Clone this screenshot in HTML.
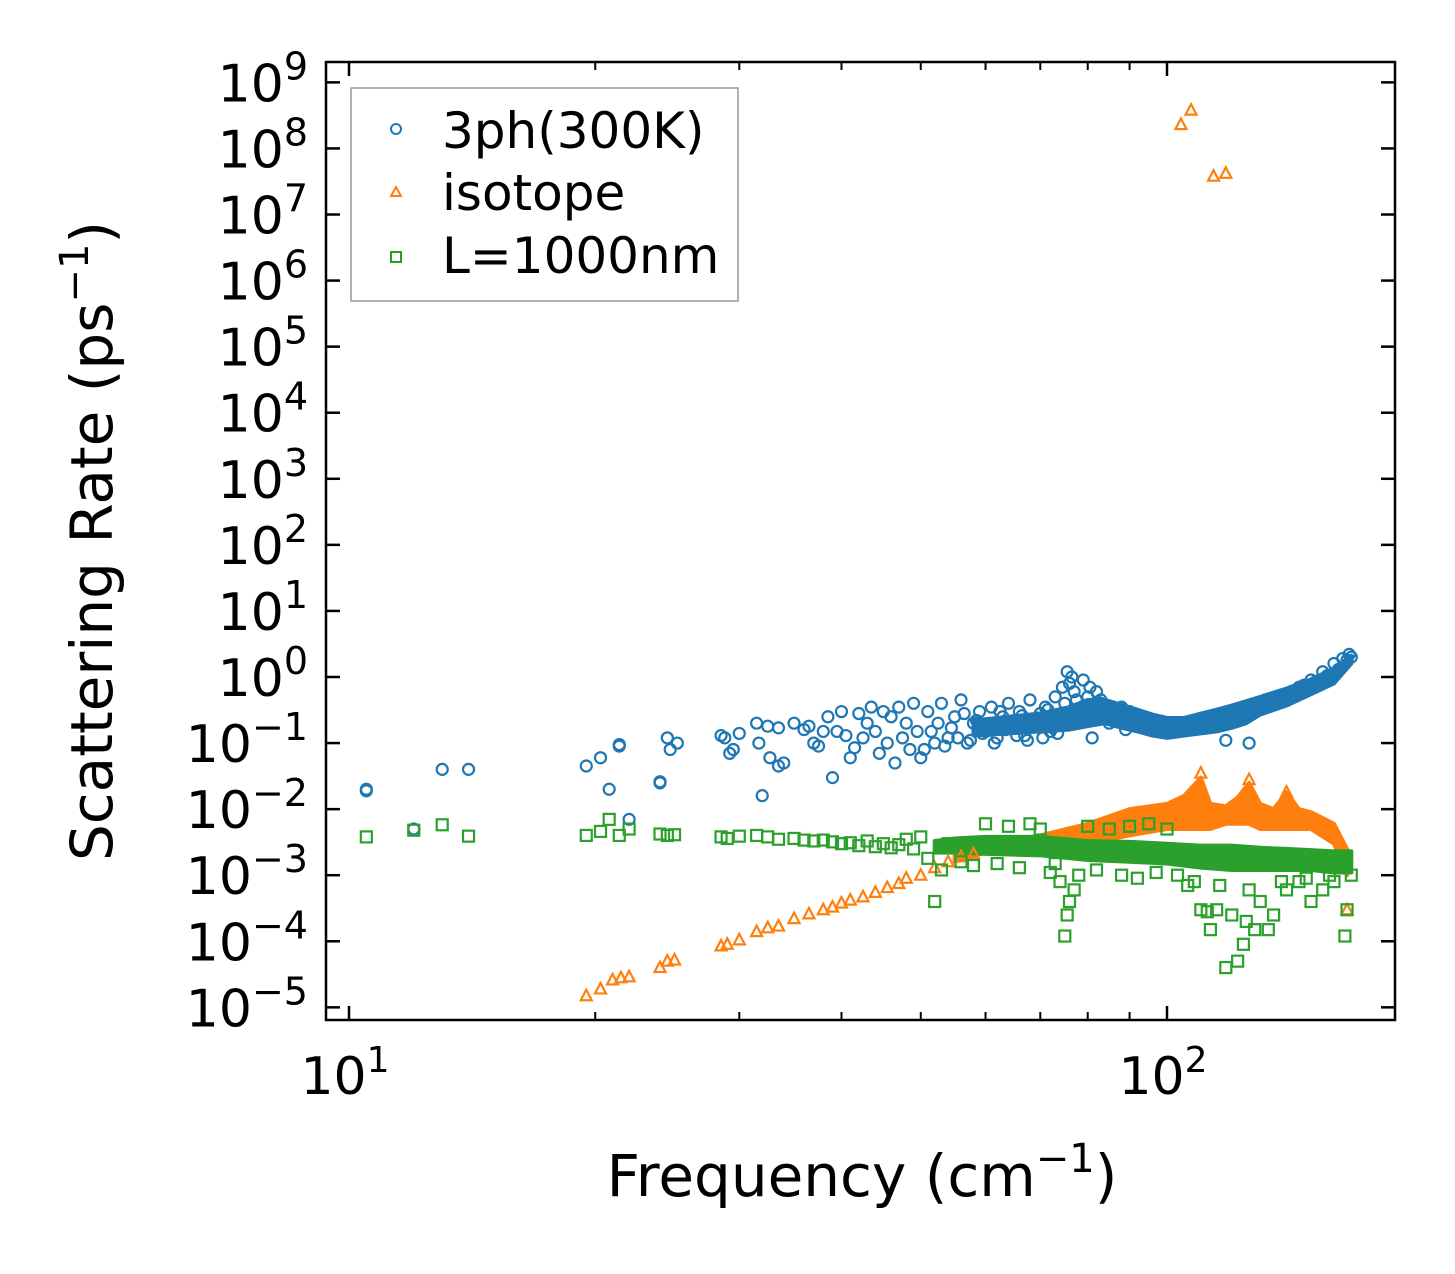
<!DOCTYPE html>
<html><head><meta charset="utf-8"><style>
html,body{margin:0;padding:0;background:#fff;}
svg text{font-family:"DejaVu Sans","Liberation Sans",sans-serif;fill:#000;}
</style></head><body>
<svg id="chart" width="1455" height="1269" viewBox="0 0 1455 1269" xmlns="http://www.w3.org/2000/svg">
<g id="bands"></g>
<g id="marks"></g>
<rect x="326" y="62" width="1069" height="958" fill="none" stroke="#000" stroke-width="2.5"/>
<g id="axes"></g>
<text x="862" y="1196" font-size="58" text-anchor="middle">Frequency (cm<tspan dy="-24" font-size="40">−1</tspan><tspan dy="24">)</tspan></text>
<text transform="translate(112,541) rotate(-90)" font-size="58" text-anchor="middle">Scattering Rate (ps<tspan dy="-24" font-size="40">−1</tspan><tspan dy="24">)</tspan></text>
<g>
<rect x="351" y="88" width="387" height="213" fill="#fff" stroke="#999" stroke-width="1.5"/>
<circle cx="396" cy="129" r="5" fill="none" stroke="#1f77b4" stroke-width="2"/>
<text x="442" y="148" font-size="50">3ph(300K)</text>
<polygon points="396,187 391,196 401,196" fill="none" stroke="#ff7f0e" stroke-width="2"/>
<text x="442" y="210" font-size="50">isotope</text>
<rect x="391" y="252" width="10" height="10" fill="none" stroke="#2ca02c" stroke-width="2"/>
<text x="442" y="273" font-size="50">L=1000nm</text>
</g>
</svg>
<script>
const xTickValues=[10,100];
const xTickLabels=["1","2"];
const xMinorValues=[20,30,40,50,60,70,80,90];
const yTickExps=[-5,-4,-3,-2,-1,0,1,2,3,4,5,6,7,8,9];
const blueX=[10.5,10.5,12,13,14,19.5,20.3,20.8,21.4,21.4,22,24,24,24.5,24.7,25.2,28.5,28.8,29.2,29.5,30,31.5,31.7,32,32.5,32.7,33.5,33.5,34,35,36,36.5,37,37.5,38,38.5,39,39.5,40,40.5,41,41.5,42,42.5,43,43.5,44,44.5,45,45.5,46,46.5,47,47.5,48,48.5,49,49.5,50,51,52,53,54,55,56,57,58,59,60,61,62,63,64,65,66,67,68,69,70,71,72,73,74,75,75.5,76,77,78,79,80,81,82,83,84,
 86,88,90,92,95,98,102,106,110,114,118,122,126,130,135,140,145,150,155,160,164,167,168,
 50.5,51.5,52.5,53.5,54.5,55.5,56.5,57.5,58.5,59.5,60.5,61.5,62.5,63.5,64.5,65.5,66.5,67.5,68.5,69.5,70.5,71.5,72.5,73.5,74.5,76.5,77.5,78.5,79.5,80.5,81.5,83,85,87,89,91,93,96,99,104,108,112,116,120,124,128,132,137,142,147,152,157,162,166];
const blueY=[0.02,0.019,0.005,0.04,0.04,0.045,0.06,0.02,0.09,0.095,0.007,0.025,0.026,0.12,0.08,0.1,0.13,0.12,0.07,0.08,0.14,0.2,0.1,0.016,0.18,0.06,0.045,0.17,0.05,0.2,0.16,0.18,0.1,0.09,0.15,0.25,0.03,0.15,0.3,0.13,0.06,0.085,0.28,0.12,0.2,0.35,0.15,0.07,0.3,0.1,0.25,0.05,0.35,0.12,0.2,0.08,0.4,0.15,0.06,0.3,0.1,0.4,0.12,0.25,0.45,0.1,0.2,0.3,0.15,0.35,0.12,0.25,0.4,0.18,0.3,0.13,0.45,0.2,0.28,0.35,0.15,0.5,0.22,0.4,1.2,0.8,0.6,0.3,0.9,0.5,0.12,0.6,0.4,0.25,
 0.3,0.35,0.3,0.25,0.22,0.18,0.17,0.2,0.22,0.25,0.11,0.3,0.1,0.4,0.45,0.55,0.7,0.9,1.2,1.6,1.9,2.2,2.0,
 0.08,0.15,0.2,0.09,0.17,0.12,0.28,0.11,0.22,0.14,0.18,0.1,0.3,0.16,0.21,0.13,0.26,0.11,0.19,0.24,0.12,0.32,0.17,0.14,0.7,1.0,0.45,0.25,0.35,0.7,0.28,0.45,0.2,0.3,0.16,0.25,0.22,0.2,0.15,0.2,0.17,0.24,0.26,0.3,0.35,0.38,0.45,0.5,0.6,0.75,0.85,1.05,1.3,1.8];
const blueBandX=[58,64,70,76,80,84,88,92,96,100,105,110,115,120,125,130,140,150,160,168];
const blueBandLo=[0.13,0.14,0.15,0.16,0.18,0.2,0.17,0.15,0.13,0.12,0.13,0.14,0.15,0.17,0.2,0.27,0.37,0.55,0.8,1.6];
const blueBandHi=[0.22,0.25,0.28,0.35,0.45,0.45,0.38,0.32,0.27,0.24,0.24,0.28,0.32,0.37,0.43,0.5,0.67,0.92,1.35,2.1];
const orangeX=[19.5,20.3,21,21.5,22,24,24.5,25,28.5,29,30,31.5,32.5,33.5,35,36.5,38,39,40,41,42.5,44,45.5,47,48,50,52,54,56,58,104,107,114,118,110,126,140,166];
const orangeY=[1.5e-5,1.9e-5,2.6e-5,2.8e-5,2.9e-5,4e-5,5e-5,5.2e-5,8.5e-5,9e-5,1.05e-4,1.4e-4,1.6e-4,1.7e-4,2.2e-4,2.6e-4,3e-4,3.3e-4,3.8e-4,4.2e-4,4.7e-4,5.5e-4,6.5e-4,7.5e-4,9e-4,1.0e-3,1.3e-3,1.6e-3,1.9e-3,2.1e-3,2.3e8,3.8e8,3.8e7,4.2e7,3.5e-2,2.8e-2,1.8e-2,3e-4];
const orangeBandX=[55,60,70,80,90,100,105,110,113,118,122,126,130,135,140,145,150,160,166];
const orangeBandLo=[1.6e-3,2.2e-3,2.5e-3,3e-3,4e-3,5e-3,5e-3,5e-3,5e-3,6e-3,6e-3,6e-3,5e-3,5e-3,5e-3,5e-3,5e-3,3e-3,1e-3];
const orangeBandHi=[2.4e-3,3e-3,4e-3,6e-3,1e-2,1.2e-2,1.6e-2,3e-2,1.2e-2,1.1e-2,1.5e-2,2.5e-2,1.2e-2,1.0e-2,1.8e-2,1.0e-2,9e-3,6e-3,2.5e-3];
const greenX=[10.5,12,13,14,19.5,20.3,20.8,21.4,22,24,24.5,25,28.5,29,30,31.5,32.5,33.5,35,36,37,38,39,40,41,42,43,44,45,46,47,48,49,50,51,52,53,54,60,64,68,70,73,74,75,75.5,76,77,78,80,85,90,95,100,103,106,110,112,113,115,118,120,122,124,125,128,130,133,135,140,145,150,155,160,165,166,168,
 56,58,62,66,72,82,88,92,97,108,116,126,138,148,158];
const greenY=[3.8e-3,4.8e-3,5.8e-3,3.9e-3,4e-3,4.6e-3,7e-3,4e-3,5e-3,4.2e-3,4e-3,4.1e-3,3.8e-3,3.6e-3,3.9e-3,4e-3,3.8e-3,3.5e-3,3.6e-3,3.4e-3,3.3e-3,3.4e-3,3.2e-3,3e-3,3.1e-3,2.8e-3,3.3e-3,2.7e-3,3e-3,2.6e-3,2.9e-3,3.5e-3,2.5e-3,3.8e-3,1.8e-3,4e-4,1.2e-3,3e-3,6e-3,5.5e-3,6e-3,5e-3,1.5e-3,8e-4,1.2e-4,2.5e-4,4e-4,6e-4,1e-3,5.5e-3,5e-3,5.5e-3,6e-3,5e-3,1e-3,7e-4,3e-4,2.8e-4,1.5e-4,3e-4,4e-5,2.5e-4,5e-5,9e-5,2e-4,1.5e-4,4e-4,1.5e-4,2.5e-4,6e-4,8e-4,4e-4,6e-4,8e-4,1.2e-4,3e-4,1e-3,
 1.6e-3,1.4e-3,1.5e-3,1.3e-3,1.1e-3,1.2e-3,1.0e-3,9e-4,1.1e-3,8e-4,7e-4,6e-4,8e-4,9e-4,1e-3];
const greenBandX=[52,55,60,70,80,90,100,110,120,130,140,150,160,168];
const greenBandLo=[2.2e-3,2.2e-3,2.1e-3,2e-3,1.7e-3,1.6e-3,1.5e-3,1.3e-3,1.2e-3,1.2e-3,1.2e-3,1.2e-3,1.1e-3,1.1e-3];
const greenBandHi=[3.3e-3,3.6e-3,3.8e-3,3.8e-3,3.3e-3,3.2e-3,3e-3,2.8e-3,2.8e-3,2.6e-3,2.5e-3,2.4e-3,2.3e-3,2.3e-3];

const NS="http://www.w3.org/2000/svg";
const X0=349,XD=818,Y0=677,YD=66.07;
function xs(v){return X0+(Math.log10(v)-1)*XD;}
function ys(v){return Y0-Math.log10(v)*YD;}
function mk(tag,attrs,parent){const e=document.createElementNS(NS,tag);for(const k in attrs)e.setAttribute(k,attrs[k]);parent.appendChild(e);return e;}
const axes=document.getElementById('axes'),marks=document.getElementById('marks'),bands=document.getElementById('bands');
const L=326,R=1395,T=62,B=1020;
xTickValues.forEach((v,i)=>{const x=xs(v);
 let t=mk('line',{x1:x,x2:x,y1:B,y2:B-14,stroke:'#000','stroke-width':2.5},axes);
 
 
 let t2=mk('line',{x1:x,x2:x,y1:T,y2:T+14,stroke:'#000','stroke-width':2.5},axes);
 
 
 const tx=mk('text',{x:x-4,y:1094,'font-size':52,'text-anchor':'middle'},axes);
 
 
 tx.innerHTML='10<tspan dy="-22" font-size="36">'+xTickLabels[i]+'</tspan>';
});
xMinorValues.forEach(v=>{const x=xs(v);
 let t=mk('line',{x1:x,x2:x,y1:B,y2:B-8,stroke:'#000','stroke-width':2},axes);
 
 
 let t2=mk('line',{x1:x,x2:x,y1:T,y2:T+8,stroke:'#000','stroke-width':2},axes);
 
 
});
yTickExps.forEach(e=>{const y=ys(Math.pow(10,e));
 let t=mk('line',{x1:L,x2:L+14,y1:y,y2:y,stroke:'#000','stroke-width':2.5},axes);
 
 
 let t2=mk('line',{x1:R,x2:R-14,y1:y,y2:y,stroke:'#000','stroke-width':2.5},axes);
 
 
 const tx=mk('text',{x:308,y:y+19,'font-size':52,'text-anchor':'end'},axes);
 
 
 const lab=e<0?'−'+(-e):''+e;
 tx.innerHTML='10<tspan dy="-22" font-size="38">'+lab+'</tspan>';
});
function band(xa,lo,hi,col,name){
 let pts=[];xa.forEach((v,i)=>pts.push(xs(v)+','+ys(hi[i])));
 for(let i=xa.length-1;i>=0;i--)pts.push(xs(xa[i])+','+ys(lo[i]));
 const p=mk('polygon',{points:pts.join(' '),fill:col,stroke:col,'stroke-width':4,'stroke-linejoin':'round'},bands);
 
 
}
band(blueBandX,blueBandLo,blueBandHi,'#1f77b4','band-3ph');
band(orangeBandX,orangeBandLo,orangeBandHi,'#ff7f0e','band-isotope');
band(greenBandX,greenBandLo,greenBandHi,'#2ca02c','band-boundary');
blueX.forEach((v,i)=>{const c=mk('circle',{cx:xs(v),cy:ys(blueY[i]),r:5.5,fill:'none',stroke:'#1f77b4','stroke-width':2.2},marks);
 
 });
orangeX.forEach((v,i)=>{const x=xs(v),y=ys(orangeY[i]);
 const c=mk('polygon',{points:`${x},${y-6} ${x-5.5},${y+4.5} ${x+5.5},${y+4.5}`,fill:'none',stroke:'#ff7f0e','stroke-width':2.2},marks);
 
 });
greenX.forEach((v,i)=>{const x=xs(v),y=ys(greenY[i]);
 const c=mk('rect',{x:x-5.5,y:y-5.5,width:11,height:11,fill:'none',stroke:'#2ca02c','stroke-width':2.2},marks);
 
 });
</script>
</body></html>
